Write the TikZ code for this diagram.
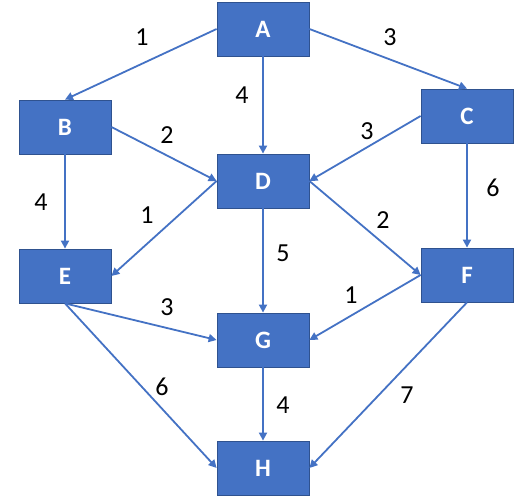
\documentclass[tikz,border=0pt]{standalone}
\usepackage{fontspec}
\setmainfont{Carlito}
\usetikzlibrary{arrows.meta}
\definecolor{nodeblue}{HTML}{4472C4}
\definecolor{nodeedge}{HTML}{2F528F}
\definecolor{linkblue}{HTML}{4472C4}
\begin{document}
\begin{tikzpicture}[x=1pt,y=1pt,
  box/.style={rectangle,fill=nodeblue,draw=nodeedge,line width=0.8pt,minimum width=92pt,minimum height=54pt,inner sep=0pt,text=white,font=\fontsize{25}{29}\selectfont\bfseries},
  link/.style={draw=linkblue,line width=1.8pt,-{Triangle[length=8pt,width=8pt]}},
  wlabel/.style={font=\fontsize{26}{30}\selectfont,text=black,inner sep=0pt}]
\useasboundingbox (0,0) rectangle (516,502);
\node[box] (A) at (263,473) {A};
\node[box] (B) at (65,375) {B};
\node[box] (C) at (467,386) {C};
\node[box] (D) at (263,321) {D};
\node[box] (E) at (65,226) {E};
\node[box] (F) at (467,227) {F};
\node[box] (G) at (263,162) {G};
\node[box] (H) at (263,34) {H};
\draw[link] (A.west) -- (B.north);
\draw[link] (A.east) -- (C.north);
\draw[link] (A.south) -- (D.north);
\draw[link] (B.east) -- (D.west);
\draw[link] (C.west) -- (D.east);
\draw[link] (B.south) -- (E.north);
\draw[link] (C.south) -- (F.north);
\draw[link] (D.west) -- (E.east);
\draw[link] (D.east) -- (F.west);
\draw[link] (D.south) -- (G.north);
\draw[link] (E.south) -- (G.west);
\draw[link] (E.south) -- (H.west);
\draw[link] (F.west) -- (G.east);
\draw[link] (F.south) -- (H.east);
\draw[link] (G.south) -- (H.north);
\node[wlabel] (lAB) at (142,465) {1};
\node[wlabel] (lAC) at (390,465) {3};
\node[wlabel] (lAD) at (242,407) {4};
\node[wlabel] (lBD) at (167,367) {2};
\node[wlabel] (lCD) at (367,371) {3};
\node[wlabel] (lBE) at (41,300) {4};
\node[wlabel] (lDE) at (147,287) {1};
\node[wlabel] (lCF) at (493,314) {6};
\node[wlabel] (lDF) at (383,282) {2};
\node[wlabel] (lDG) at (283,249) {5};
\node[wlabel] (lFG) at (351,207) {1};
\node[wlabel] (lEG) at (167,195) {3};
\node[wlabel] (lEH) at (162,115) {6};
\node[wlabel] (lGH) at (283,97) {4};
\node[wlabel] (lFH) at (407,107) {7};
\end{tikzpicture}
\end{document}
